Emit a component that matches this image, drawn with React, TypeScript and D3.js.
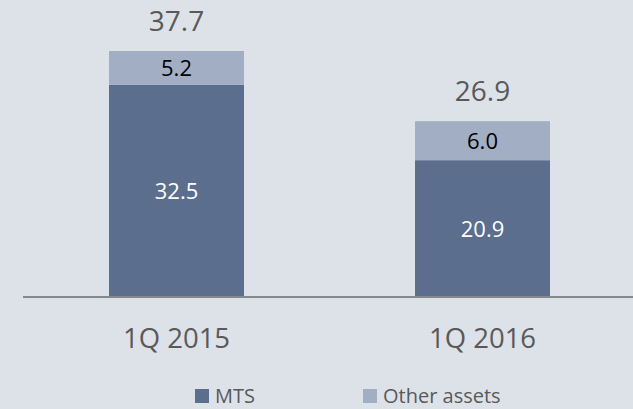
import React from "react";
import * as d3 from "d3";

const categories = ["1Q 2015", "1Q 2016"];
const mtsValues = [32.5, 20.9];
const otherValues = [5.2, 6.0];
const totals = [37.7, 26.9];
const seriesNames = ["MTS", "Other assets"];

const W = 633;
const H = 409;
const BG = "#dde1e8";
const MTS_COLOR = "#5b6e8e";
const OTHER_COLOR = "#a2aec3";
const FONT = "'Open Sans', sans-serif";

export default function App() {
  const x = d3.scaleBand<string>().domain(categories).range([23.5, 635.5]);
  const y = d3.scaleLinear().domain([0, 37.7]).range([296, 51]);
  const barW = 135;

  const rows = categories.map((c, i) => ({ c, mts: mtsValues[i], other: otherValues[i] }));
  const stack = d3.stack<any>().keys(["mts", "other"])(rows);

  return (
    <svg
      width={W}
      height={H}
      style={{ position: "absolute", left: 0, top: 0, background: BG }}
      fontFamily={FONT}
    >
      <rect x={0} y={0} width={W} height={H} fill={BG} />
      {stack.map((layer, li) =>
        layer.map((d, i) => {
          const cx = (x(categories[i]) as number) + x.bandwidth() / 2;
          const y0 = y(d[0]);
          const y1 = y(d[1]);
          const val = li === 0 ? mtsValues[i] : otherValues[i];
          return (
            <g key={`${li}-${i}`}>
              <rect
                x={cx - barW / 2}
                y={y1}
                width={barW}
                height={y0 - y1}
                fill={li === 0 ? MTS_COLOR : OTHER_COLOR}
              />
              <text
                x={cx}
                y={(y0 + y1) / 2 + 8.5}
                textAnchor="middle"
                fontSize={22}
                fill={li === 0 ? "#ffffff" : "#000000"}
              >
                {val.toFixed(1)}
              </text>
            </g>
          );
        })
      )}
      {categories.map((c, i) => {
        const cx = (x(c) as number) + x.bandwidth() / 2;
        return (
          <g key={c}>
            <text x={cx} y={y(totals[i]) - 20} textAnchor="middle" fontSize={28} fill="#595959">
              {totals[i].toFixed(1)}
            </text>
            <text x={cx} y={348} textAnchor="middle" fontSize={27.5} fill="#595959">
              {c}
            </text>
          </g>
        );
      })}
      <line x1={23} x2={633} y1={y(0) + 1} y2={y(0) + 1} stroke="#888888" strokeWidth={2} />
      {seriesNames.map((s, i) => {
        const lx = i === 0 ? 195 : 363;
        return (
          <g key={s}>
            <rect x={lx} y={389} width={14} height={14} fill={i === 0 ? MTS_COLOR : OTHER_COLOR} />
            <text x={lx + 20} y={403} fontSize={20} fill="#595959">
              {s}
            </text>
          </g>
        );
      })}
    </svg>
  );
}
